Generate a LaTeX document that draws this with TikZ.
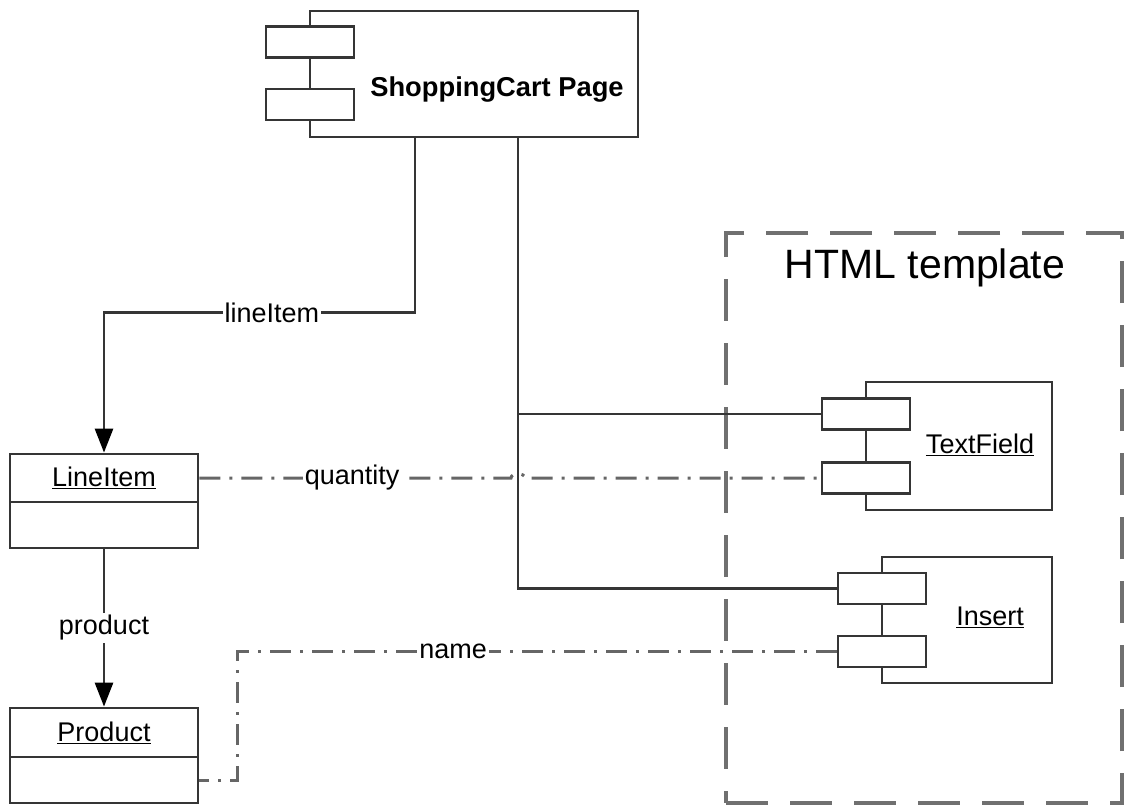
\documentclass[tikz,border=0pt]{standalone}
\usepackage{fontspec}
\setmainfont{Liberation Sans}
\usetikzlibrary{arrows.meta,calc}
\definecolor{lc}{HTML}{353535}
\definecolor{dc}{HTML}{666666}
\definecolor{fc}{HTML}{707070}
\tikzset{
 box/.style={draw=lc, line width=2.8pt, fill=white, inner sep=0pt, rectangle},
 port/.style={box, minimum width=88pt, minimum height=31pt},
 conn/.style={draw=lc, line width=2.8pt},
 ddot/.style={draw=dc, line width=3pt, dash pattern=on 21pt off 9pt on 3pt off 9pt},
 frame/.style={draw=fc, line width=3.8pt, dash pattern=on 42pt off 22pt, inner sep=0pt},
 lbl/.style={font=\fontsize{27}{32}\selectfont, inner sep=2pt, text=black},
 tag/.style={lbl, fill=white},
 arr/.style={-{Triangle[width=18pt,length=24pt,color=black]}},
}
\begin{document}
\begin{tikzpicture}[x=1pt,y=-1pt]
\useasboundingbox[fill=white] (0,0) rectangle (1126,805);
% HTML template frame
\node[frame, minimum width=396pt, minimum height=570pt] (html) at (924,518) {};
\node[lbl, font=\fontsize{41}{48}\selectfont] (htmlt) at (925,268) {HTML template};
% ShoppingCart Page component
\node[box, minimum width=328pt, minimum height=126pt] (sc) at (474,74) {};
\node[port] (scp1) at (310,42) {};
\node[port] (scp2) at (310,104.5) {};
\node[lbl, font=\fontsize{27.3}{32}\selectfont\bfseries] (sct) at (497,90) {ShoppingCart Page};
% TextField component
\node[box, minimum width=186pt, minimum height=128pt] (tf) at (959,446) {};
\node[port] (tfp1) at (866,414) {};
\node[port] (tfp2) at (866,478) {};
\node[lbl] (tft) at (980,445) {\underline{TextField}};
% Insert component
\node[box, minimum width=170pt, minimum height=126pt] (is) at (967,620) {};
\node[port] (isp1) at (882,588.5) {};
\node[port] (isp2) at (882,651.5) {};
\node[lbl] (ist) at (990,617) {\underline{Insert}};
% LineItem class
\node[box, lbl, minimum width=188pt, minimum height=48pt] (li) at (104,478) {\underline{LineItem}};
\node[box, minimum width=188pt, minimum height=46pt] (lib) at (104,525) {};
% Product class
\node[box, lbl, minimum width=188pt, minimum height=49pt] (pr) at (104,732.5) {\underline{Product}};
\node[box, minimum width=188pt, minimum height=46pt] (prb) at (104,780) {};
% connectors
\draw[conn, arr] ([xshift=-59pt]sc.south) -- ++(0,174) -| node[tag, pos=0.23] {lineItem} (li.north);
\draw[conn, arr] (lib.south) -- node[tag] {product} (pr.north);
\coordinate (vj) at ([xshift=44pt]sc.south);
\draw[conn] (vj) |- (isp1.west);
\draw[conn] (tfp1.west) -- (tfp1.west -| vj);
\draw[ddot] (li.east) -- node[tag, pos=0.49] {quantity} ([xshift=-7pt]li.east -| vj) to[out=90, in=90] ([xshift=7pt]li.east -| vj) -- (tfp2.west);
\draw[ddot] (isp2.west) -| node[tag, pos=0.32] {name} ([xshift=38pt]prb.east) -- (prb.east);
\end{tikzpicture}
\end{document}
